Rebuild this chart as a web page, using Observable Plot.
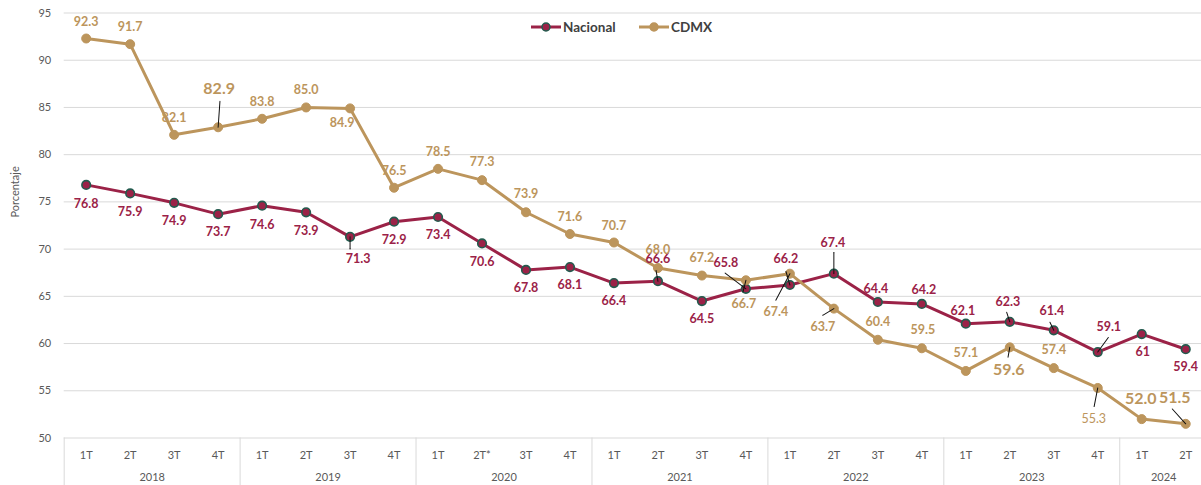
<!DOCTYPE html>
<html>
<head>
<meta charset="utf-8">
<script src="https://cdn.jsdelivr.net/npm/d3@7"></script>
<script src="https://cdn.jsdelivr.net/npm/@observablehq/plot@0.6"></script>
<style>
  body { margin: 0; background: #fff; font-family: Lato, "Open Sans", sans-serif; }
  #wrap { position: relative; width: 1201px; height: 485px; overflow: hidden; }
  .leg { position: absolute; top: 18px; height: 18px; display: flex; align-items: center;
         font: bold 13.5px Lato, sans-serif; color: #404040; }
  .leg svg { margin-right: 2px; }
</style>
</head>
<body>
<div id="wrap"></div>
<script>
// ---------- data ----------
const quarterLabels = ["1T","2T","3T","4T","1T","2T","3T","4T","1T","2T*","3T","4T","1T","2T","3T","4T","1T","2T","3T","4T","1T","2T","3T","4T","1T","2T"];
const periodYears   = ["2018","2018","2018","2018","2019","2019","2019","2019","2020","2020","2020","2020","2021","2021","2021","2021","2022","2022","2022","2022","2023","2023","2023","2023","2024","2024"];
const nacional = [76.8,75.9,74.9,73.7,74.6,73.9,71.3,72.9,73.4,70.6,67.8,68.1,66.4,66.6,64.5,65.8,66.2,67.4,64.4,64.2,62.1,62.3,61.4,59.1,61,59.4];
const cdmx     = [92.3,91.7,82.1,82.9,83.8,85.0,84.9,76.5,78.5,77.3,73.9,71.6,70.7,68.0,67.2,66.7,67.4,63.7,60.4,59.5,57.1,59.6,57.4,55.3,52.0,51.5];
const yTicks = [50,55,60,65,70,75,80,85,90,95];
const seriesNames = ["Nacional","CDMX"];

// ---------- label styling (offsets in px from each point) ----------
const nacionalLabelOffsets = [[0,19],[0,19],[0,18],[0,18],[0,19],[0,19],[8,22],[0,18],[0,18],[0,19],[0,18],[0,18],[0,18],[0,-22],[0,18],[-20,-26],[-4,-26],[-1,-31],[-2,-13],[2,-14],[-3,-13],[-2,-20],[-2,-19],[11,-25],[1,18],[0,18]];
const cdmxLabelOffsets = [[0,-17],[0,-17],[0,-17],[1,-38],[0,-17],[0,-17],[-8,15],[0,-17],[0,-17],[0,-18],[0,-18],[0,-17],[0,-17],[0,-18],[0,-18],[-2,24],[-14,38],[-11,18],[0,-18],[1,-18],[0,-18],[-1,23],[0,-18],[-4,31],[-1,-20],[-11,-26]];
const cdmxBigLabels = [3,21,24,25];
const cdmxPlainLabels = [23];
// leader lines: [index, length px, rotation deg]
const nacionalLeaders = [[6,12,180],[13,11,-10],[15,26,-53],[16,14,-16],[17,21,0],[21,10,-18],[22,9,-25],[23,18,36]];
const cdmxLeaders = [[3,26,4],[15,12,194],[16,30,208],[17,13,239],[21,10,190],[23,19,191],[25,20,-42]];

const C_NAC = "#9b2247", C_NAC_EDGE = "#235b4e", C_CDMX = "#bc955c";

// ---------- derived ----------
const idx = d3.range(nacional.length);
const rowsNac = idx.map(i => ({i, v: nacional[i]}));
const rowsCdmx = idx.map(i => ({i, v: cdmx[i]}));
const years = [...new Set(periodYears)];
const yearCenters = years.map(y => d3.mean(idx.filter(i => periodYears[i] === y)));
const yearBounds = years.map(y => d3.min(idx.filter(i => periodYears[i] === y)) - 0.5);

const labelMarks = [];
rowsNac.forEach((d, k) => {
  const [dx, dy] = nacionalLabelOffsets[k];
  labelMarks.push(Plot.text([d], {x: "i", y: "v", text: r => String(r.v), dx, dy,
    fill: C_NAC, fontSize: 12.5, fontWeight: "bold", lineAnchor: "middle"}));
});
rowsCdmx.forEach((d, k) => {
  const [dx, dy] = cdmxLabelOffsets[k];
  const big = cdmxBigLabels.includes(k), plain = cdmxPlainLabels.includes(k);
  labelMarks.push(Plot.text([d], {x: "i", y: "v", text: r => r.v.toFixed(1), dx, dy,
    fill: C_CDMX, fontSize: big ? 16 : 12.5, fontWeight: plain ? "normal" : "bold", lineAnchor: "middle"}));
});
const leaderMarks = [
  ...nacionalLeaders.map(([i, len, rot]) => Plot.vector([rowsNac[i]], {x: "i", y: "v", length: len, rotate: rot, anchor: "start", r: 0, stroke: "#111", strokeWidth: 1})),
  ...cdmxLeaders.map(([i, len, rot]) => Plot.vector([rowsCdmx[i]], {x: "i", y: "v", length: len, rotate: rot, anchor: "start", r: 0, stroke: "#111", strokeWidth: 1}))
];

const chart = Plot.plot({
  width: 1201,
  height: 485,
  marginLeft: 63.7,
  marginRight: 0,
  marginTop: 12.5,
  marginBottom: 47.5,
  style: {fontFamily: "Lato, 'Open Sans', sans-serif", color: "#595959", background: "#fff"},
  x: {domain: [-0.5, nacional.length - 0.5], range: [63.7, 1207.2]},
  y: {domain: [50, 95]},
  marks: [
    Plot.ruleY(yTicks, {stroke: "#d9d9d9", strokeWidth: 1}),
    Plot.ruleX(yearBounds, {y1: 50, y2: 44.9, stroke: "#d9d9d9", strokeWidth: 1}),
    Plot.axisY({ticks: yTicks, tickSize: 0, tickPadding: 13, fontSize: 11, label: null}),
    Plot.text(["Porcentaje"], {frameAnchor: "left", rotate: -90, dx: -48.7, dy: -8, fontSize: 11, fill: "#595959"}),
    Plot.axisX({ticks: idx, tickFormat: i => quarterLabels[i], tickSize: 0, tickPadding: 13, fontSize: 11, label: null}),
    Plot.axisX({ticks: yearCenters, tickFormat: c => years[yearCenters.indexOf(c)], tickSize: 0, tickPadding: 35, fontSize: 11, label: null}),
    Plot.line(rowsNac, {x: "i", y: "v", stroke: C_NAC, strokeWidth: 3}),
    Plot.dot(rowsNac, {x: "i", y: "v", r: 4.3, fill: C_NAC, stroke: C_NAC_EDGE, strokeWidth: 1.6}),
    Plot.line(rowsCdmx, {x: "i", y: "v", stroke: C_CDMX, strokeWidth: 3}),
    Plot.dot(rowsCdmx, {x: "i", y: "v", r: 4.5, fill: C_CDMX, stroke: C_CDMX, strokeWidth: 1}),
    ...leaderMarks,
    ...labelMarks
  ]
});

const wrap = document.getElementById("wrap");
wrap.appendChild(chart);

// legend (HTML above the svg)
const legendColors = [[C_NAC, C_NAC_EDGE], [C_CDMX, C_CDMX]];
const legendLefts = [531, 639];
seriesNames.forEach((name, k) => {
  const div = document.createElement("div");
  div.className = "leg";
  div.style.left = legendLefts[k] + "px";
  const [c, edge] = legendColors[k];
  div.innerHTML = `<svg width="30" height="12"><line x1="0" x2="30" y1="6" y2="6" stroke="${c}" stroke-width="3"/><circle cx="15" cy="6" r="4" fill="${c}" stroke="${edge}" stroke-width="1.5"/></svg><span>${name}</span>`;
  wrap.appendChild(div);
});
</script>
</body>
</html>
